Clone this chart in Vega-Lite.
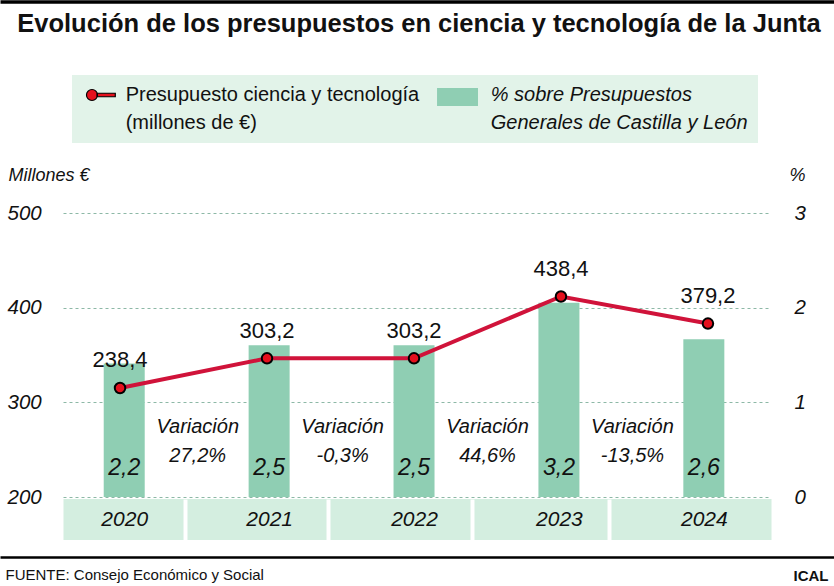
{
  "$schema": "https://vega.github.io/schema/vega-lite/v6.json",
  "width": 708,
  "height": 284,
  "autosize": {"type": "none"},
  "padding": {"left": 63, "top": 213, "right": 63, "bottom": 89},
  "background": "white",
  "config": {
    "locale": {"number": {"decimal": ",", "thousands": ".", "grouping": [3], "currency": ["", " €"], "minus": "-"}},
    "view": {"stroke": null},
    "style": {"guide-label": {"lineHeight": 27.5}}
  },
  "datasets": {
    "anual": [
      {"anio": 2020, "presupuesto": 238.4, "porcentaje": 2.2},
      {"anio": 2021, "presupuesto": 303.2, "porcentaje": 2.5},
      {"anio": 2022, "presupuesto": 303.2, "porcentaje": 2.5},
      {"anio": 2023, "presupuesto": 438.4, "porcentaje": 3.2},
      {"anio": 2024, "presupuesto": 379.2, "porcentaje": 2.6}
    ],
    "variacion": [
      {"desde": 2020, "variacion": 0.272},
      {"desde": 2021, "variacion": -0.003},
      {"desde": 2022, "variacion": 0.446},
      {"desde": 2023, "variacion": -0.135}
    ]
  },
  "resolve": {"scale": {"x": "independent", "y": "independent"}},
  "layer": [
    {
      "mark": {"type": "point", "opacity": 0},
      "encoding": {
        "x": {
          "datum": 0, "type": "quantitative",
          "scale": {"domain": [0, 1], "nice": false, "zero": false},
          "axis": {
            "orient": "bottom", "offset": 22, "domain": true, "domainColor": "#d4eee0", "domainWidth": 41,
            "domainCap": "butt", "ticks": false, "labels": false, "grid": false, "title": null
          }
        }
      }
    },
    {
      "data": {"name": "anual"},
      "layer": [
        {
          "mark": {"type": "bar", "width": 41},
          "encoding": {
            "x": {
              "field": "anio", "type": "quantitative",
              "scale": {"domain": [2019.612, 2024.429], "nice": false, "zero": false},
              "axis": {
                "orient": "bottom", "offset": 22, "values": [2020, 2021, 2022, 2023, 2024], "format": "d",
                "domain": false, "ticks": false, "tickSize": 0, "grid": false, "zindex": 1,
                "labelPadding": 0, "labelBaseline": "middle", "labelFont": "Liberation Sans",
                "labelFontSize": 21, "labelFontStyle": "italic", "labelColor": "#111",
                "labelFlush": false, "labelOverlap": false, "labelBound": false,
                "title": "ICAL", "titleX": 765, "titleY": 61, "titleAlign": "right", "titleBaseline": "alphabetic",
                "titleAngle": 0, "titleFont": "Liberation Sans", "titleFontSize": 15, "titleFontWeight": "bold", "titleColor": "#111"
              }
            },
            "y": {"field": "porcentaje", "type": "quantitative", "scale": {"domain": [0, 4.68], "nice": false}, "axis": null},
            "color": {
              "datum": "% sobre Presupuestos Generales de Castilla y León",
              "scale": {"range": ["#8fceb3"]},
              "legend": {
                "orient": "none", "legendX": 361, "legendY": -138, "title": null, "padding": 10,
                "fillColor": "#e2f3e9", "symbolType": "M-0.87,-0.875L4.25,-0.875L4.25,1.375L-0.87,1.375Z", "symbolSize": 256,
                "symbolStrokeWidth": 0, "symbolOpacity": 1, "labelOffset": 36.7, "labelFont": "Liberation Sans",
                "labelFontSize": 20, "labelFontStyle": "italic", "labelColor": "#111", "labelLimit": 400,
                "labelExpr": "['% sobre Presupuestos', 'Generales de Castilla y León']"
              }
            }
          }
        },
        {
          "mark": {"type": "text", "dy": -22, "baseline": "alphabetic", "align": "center", "font": "Liberation Sans", "fontSize": 23, "fontStyle": "italic", "color": "#111"},
          "encoding": {
            "x": {"field": "anio", "type": "quantitative"},
            "y": {"datum": 0, "type": "quantitative", "axis": null},
            "text": {"field": "porcentaje", "type": "quantitative", "format": ".1f"}
          }
        },
        {
          "data": {"name": "variacion"},
          "mark": {"type": "text", "text": "Variación", "dx": 73.5, "dy": -64, "baseline": "alphabetic", "align": "center", "font": "Liberation Sans", "fontSize": 20, "fontStyle": "italic", "color": "#111"},
          "encoding": {
            "x": {"field": "desde", "type": "quantitative"},
            "y": {"datum": 0, "type": "quantitative", "axis": null}
          }
        },
        {
          "data": {"name": "variacion"},
          "mark": {"type": "text", "dx": 73.5, "dy": -35.5, "baseline": "alphabetic", "align": "center", "font": "Liberation Sans", "fontSize": 20, "fontStyle": "italic", "color": "#111"},
          "encoding": {
            "x": {"field": "desde", "type": "quantitative"},
            "y": {"datum": 0, "type": "quantitative", "axis": null},
            "text": {"field": "variacion", "type": "quantitative", "format": ".1%"}
          }
        }
      ]
    },
    {
      "data": {"name": "anual"},
      "encoding": {
        "x": {
          "field": "anio", "type": "quantitative",
          "scale": {"domain": [2019.612, 2024.429], "nice": false, "zero": false},
          "axis": {
            "orient": "bottom", "offset": 2, "values": [2020.44, 2021.417, 2022.395, 2023.33],
            "domain": false, "labels": false, "grid": false, "ticks": true, "tickColor": "white",
            "tickWidth": 4, "tickSize": 41, "zindex": 1, "title": null
          }
        },
        "y": {"field": "presupuesto", "type": "quantitative", "scale": {"domain": [0, 621], "nice": false}, "axis": null}
      },
      "layer": [
        {"mark": {"type": "line", "color": "#d0133a", "strokeWidth": 4}},
        {
          "mark": {"type": "point", "filled": true, "size": 110, "stroke": "black", "strokeWidth": 2, "opacity": 1},
          "encoding": {
            "fill": {
              "datum": "Presupuesto ciencia y tecnología (millones de €)",
              "scale": {"range": ["#e5101d"]},
              "legend": {
                "orient": "none", "legendX": 9, "legendY": -138, "title": null, "padding": 10,
                "fillColor": "#e2f3e9",
                "symbolType": "M0.62,-0.22L2.91,-0.22L2.91,0.22L0.62,0.22Z M0,-0.69A0.69,0.69 0 1,1 0,0.69A0.69,0.69 0 1,1 0,-0.69Z",
                "symbolSize": 256, "symbolStrokeColor": "black", "symbolStrokeWidth": 1.2, "symbolOpacity": 1,
                "labelOffset": 23.7, "labelFont": "Liberation Sans", "labelFontSize": 20, "labelColor": "#111", "labelLimit": 400,
                "labelExpr": "['Presupuesto ciencia y tecnología', '(millones de €)']"
              }
            }
          }
        },
        {
          "mark": {"type": "text", "dy": -20.5, "baseline": "alphabetic", "align": "center", "font": "Liberation Sans", "fontSize": 22, "color": "#111"},
          "encoding": {"text": {"field": "presupuesto", "type": "quantitative", "format": ".1f"}}
        }
      ]
    },
    {
      "mark": {"type": "rule", "color": "black", "strokeWidth": 3.5},
      "encoding": {
        "y": {
          "datum": 200, "type": "quantitative",
          "scale": {"domain": [200, 500], "nice": false, "zero": false},
          "axis": {
            "orient": "left", "values": [200, 300, 400, 500], "grid": true, "gridColor": "#8db8a6",
            "gridDash": [3, 3], "gridWidth": 1, "domain": false, "ticks": false, "tickSize": 0,
            "labelAlign": "left", "labelPadding": 56, "labelBaseline": "middle", "labelFont": "Liberation Sans",
            "labelFontSize": 20.5, "labelFontStyle": "italic", "labelColor": "#111", "labelFlush": false, "labelOverlap": false,
            "title": "Millones €", "titleX": -55, "titleY": -33, "titleAngle": 0, "titleAlign": "left",
            "titleBaseline": "alphabetic", "titleFont": "Liberation Sans", "titleFontSize": 18, "titleFontStyle": "italic",
            "titleFontWeight": "normal", "titleColor": "#111"
          }
        }
      }
    },
    {
      "mark": {"type": "point", "opacity": 0},
      "encoding": {
        "x": {
          "datum": 0, "type": "quantitative",
          "scale": {"domain": [0, 1], "range": [-63, 771], "nice": false, "zero": false},
          "axis": {
            "orient": "top", "offset": 211.5, "domain": true, "domainColor": "black", "domainWidth": 3.5,
            "ticks": false, "labels": false, "grid": false,
            "title": "Evolución de los presupuestos en ciencia y tecnología de la Junta",
            "titleX": 355.5, "titleY": 30.2, "titleAlign": "center", "titleBaseline": "alphabetic", "titleAngle": 0,
            "titleFont": "Liberation Sans", "titleFontSize": 25.5, "titleFontWeight": "bold", "titleColor": "#111"
          }
        },
        "y": {
          "datum": 0, "type": "quantitative",
          "scale": {"domain": [0, 3], "nice": false},
          "axis": {
            "orient": "right", "values": [0, 1, 2, 3], "grid": false, "domain": false, "ticks": false, "tickSize": 0,
            "labelAlign": "left", "labelPadding": 23, "labelBaseline": "middle", "labelFont": "Liberation Sans",
            "labelFontSize": 20.5, "labelFontStyle": "italic", "labelColor": "#111", "labelFlush": false, "labelOverlap": false,
            "title": "%", "titleX": 26, "titleY": -33, "titleAngle": 0, "titleAlign": "center", "titleBaseline": "alphabetic",
            "titleFont": "Liberation Sans", "titleFontSize": 18, "titleFontStyle": "italic", "titleFontWeight": "normal", "titleColor": "#111"
          }
        }
      }
    },
    {
      "mark": {"type": "point", "opacity": 0},
      "encoding": {
        "x": {
          "datum": 0, "type": "quantitative",
          "scale": {"domain": [0, 1], "range": [-63, 771], "nice": false, "zero": false},
          "axis": {
            "orient": "bottom", "offset": 60, "domain": true, "domainColor": "black", "domainWidth": 2.5,
            "ticks": false, "labels": false, "grid": false,
            "title": "FUENTE: Consejo Económico y Social",
            "titleX": -58, "titleY": 22, "titleAlign": "left", "titleBaseline": "alphabetic", "titleAngle": 0,
            "titleFont": "Liberation Sans", "titleFontSize": 15, "titleFontWeight": "normal", "titleColor": "#111"
          }
        }
      }
    }
  ]
}
